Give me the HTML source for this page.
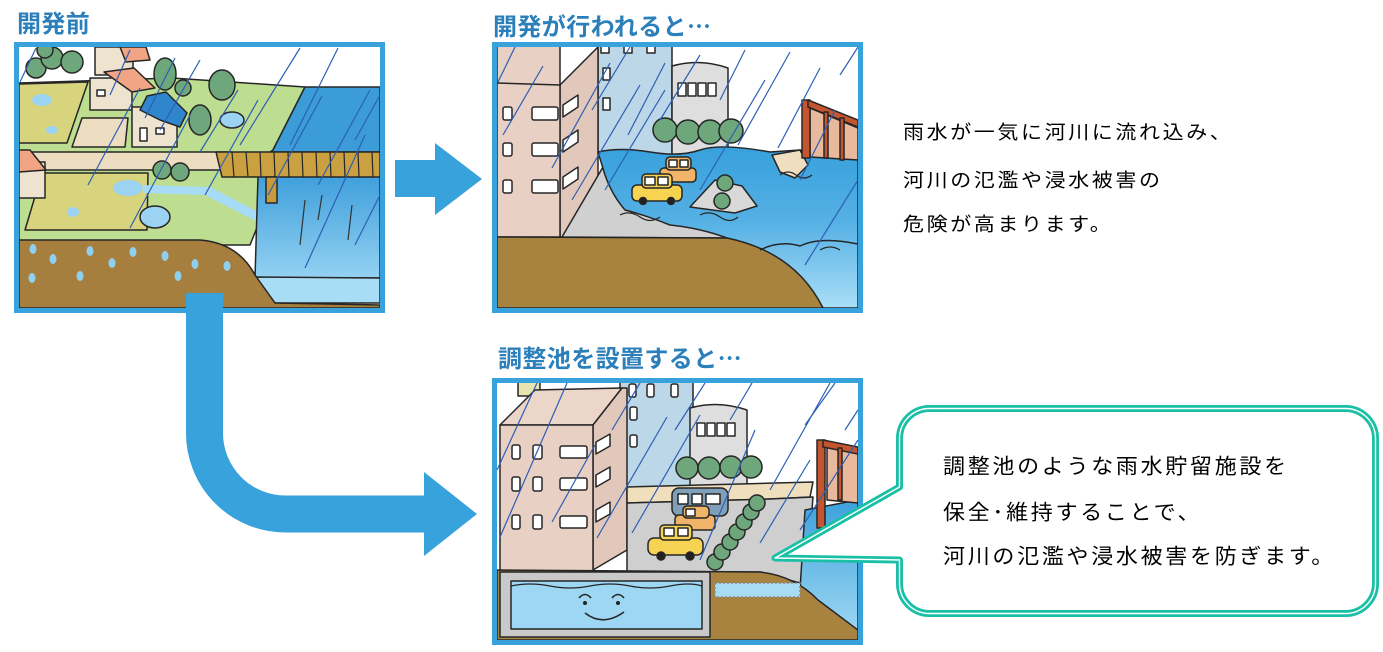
<!DOCTYPE html>
<html><head><meta charset="utf-8">
<style>
html,body{margin:0;padding:0;background:#fff;}
body{width:1383px;height:652px;position:relative;overflow:hidden;}
.t{position:absolute;white-space:nowrap;line-height:1;font-family:"Liberation Sans","Noto Sans CJK JP",sans-serif;}
.ttl{font-size:24px;font-weight:700;color:#2b7fba;letter-spacing:0.4px;}
.el{font-family:"Noto Sans CJK JP",sans-serif;}
.r{font-size:21px;color:#000;letter-spacing:2.6px;transform:scaleY(0.9);transform-origin:0 50%;}
.b{font-size:22px;color:#000;letter-spacing:2.7px;transform:scaleY(0.95);transform-origin:0 50%;}
svg{position:absolute;left:0;top:0;}
</style></head><body>
<svg width="1383" height="652" viewBox="0 0 1383 652" xmlns="http://www.w3.org/2000/svg">
<defs>
<clipPath id="c1"><rect x="19" y="47" width="361" height="261"/></clipPath>
<clipPath id="c2"><rect x="497" y="47" width="361" height="261"/></clipPath>
<clipPath id="c3"><rect x="497" y="383" width="361" height="257"/></clipPath>
<linearGradient id="g1" gradientUnits="userSpaceOnUse" x1="0" y1="176" x2="0" y2="278"><stop offset="0" stop-color="#3f9fdb"/><stop offset="1" stop-color="#93d1f2"/></linearGradient>
<linearGradient id="g2" gradientUnits="userSpaceOnUse" x1="0" y1="150" x2="0" y2="308"><stop offset="0" stop-color="#38a1dc"/><stop offset="0.45" stop-color="#55b0e4"/><stop offset="1" stop-color="#a9def7"/></linearGradient>
<linearGradient id="g3" gradientUnits="userSpaceOnUse" x1="0" y1="505" x2="0" y2="640"><stop offset="0" stop-color="#3fa3dc"/><stop offset="1" stop-color="#a3daf5"/></linearGradient>
</defs>

<!-- ===== PANEL 1 ===== -->
<g clip-path="url(#c1)" stroke="#262626" stroke-width="1.5" stroke-linejoin="round">
<rect x="19" y="47" width="361" height="261" fill="#fff" stroke="none"/>
<polygon points="19,83 172,78 305,87 273,150 262,215 250,245 19,245" fill="#bddd90"/>
<polygon points="19,84 88,82 67,143 19,143" fill="#d8d47e"/>
<polygon points="42,173 148,173 147,230 25,230" fill="#d8d47e"/>
<polygon points="19,152 232,152 240,170 19,170" fill="#ecdcc0"/>
<polygon points="82,118 128,118 125,147 72,147" fill="#ecdcc0"/>
<polygon points="143,185 210,187 262,214 258,222 205,195 143,193" fill="#a8dcf6" stroke="none"/>
<polygon points="305,87 380,87 380,152 270,152 273,150" fill="#3b9cd8"/>
<polygon points="258,176 380,176 380,278 255,278" fill="url(#g1)"/>
<polygon points="255,277 380,278 380,303 275,303" fill="#a8ddf6"/>
<path d="M19,240 L200,240 Q238,243 255,275 L275,303 L380,305 L380,308 L19,308 Z" fill="#a67e3d"/>
<polygon points="216,152 380,152 380,177 222,177" fill="#caa040"/>
<g stroke-width="1.2"><line x1="232" y1="152" x2="234" y2="177"/><line x1="246" y1="152" x2="248" y2="177"/><line x1="260" y1="152" x2="261" y2="177"/><line x1="274" y1="152" x2="275" y2="177"/><line x1="288" y1="152" x2="289" y2="177"/><line x1="302" y1="152" x2="303" y2="177"/><line x1="316" y1="152" x2="317" y2="177"/><line x1="330" y1="152" x2="331" y2="177"/><line x1="344" y1="152" x2="345" y2="177"/><line x1="358" y1="152" x2="359" y2="177"/><line x1="372" y1="152" x2="373" y2="177"/></g>
<rect x="266" y="177" width="11" height="26" fill="#c99a3c"/>
<!-- houses -->
<rect x="95" y="47" width="38" height="28" fill="#eee3cf"/>
<polygon points="120,47 146,47 150,60 126,62" fill="#f2a584"/>
<rect x="90" y="78" width="42" height="32" fill="#eee3cf"/>
<polygon points="104,72 134,68 155,88 132,92" fill="#f2a584"/>
<rect x="97" y="90" width="8" height="6" fill="#fff"/>
<rect x="132" y="107" width="45" height="40" fill="#eee3cf"/>
<polygon points="147,96 166,92 187,113 180,127 160,120 140,110" fill="#2f86cc"/>
<rect x="140" y="128" width="7" height="13" fill="#fff"/><rect x="156" y="128" width="8" height="6" fill="#fff"/>
<rect x="19" y="162" width="26" height="36" fill="#eee3cf"/>
<polygon points="19,150 30,150 46,170 19,172" fill="#f2a584"/>
<!-- trees -->
<g fill="#6ea77b">
<circle cx="36" cy="68" r="10"/><circle cx="52" cy="58" r="11"/><circle cx="72" cy="62" r="11"/><circle cx="45" cy="50" r="8"/>
<ellipse cx="165" cy="74" rx="11" ry="16"/><circle cx="183" cy="88" r="8"/><ellipse cx="200" cy="120" rx="11" ry="15"/><ellipse cx="222" cy="85" rx="13" ry="15"/>
<circle cx="162" cy="170" r="9"/><circle cx="180" cy="172" r="9"/>
</g>
<!-- ponds -->
<g fill="#9dd3f2" stroke="none">
<ellipse cx="42" cy="100" rx="10" ry="6"/><ellipse cx="52" cy="130" rx="6" ry="4"/><ellipse cx="128" cy="188" rx="15" ry="8"/><ellipse cx="73" cy="212" rx="6" ry="5"/>
</g>
<ellipse cx="155" cy="217" rx="15" ry="11" fill="#9dd3f2"/><ellipse cx="232" cy="120" rx="12" ry="8" fill="#9dd3f2"/>
<!-- drops -->
<g fill="#8fd0f0" stroke="none">
<ellipse cx="33" cy="249" rx="3.5" ry="5"/><ellipse cx="53" cy="259" rx="3.5" ry="5"/><ellipse cx="90" cy="251" rx="3.5" ry="5"/><ellipse cx="112" cy="263" rx="3.5" ry="5"/><ellipse cx="133" cy="252" rx="3.5" ry="5"/><ellipse cx="165" cy="256" rx="3.5" ry="5"/><ellipse cx="195" cy="264" rx="3.5" ry="5"/><ellipse cx="227" cy="266" rx="3.5" ry="5"/><ellipse cx="32" cy="278" rx="3.5" ry="5"/><ellipse cx="80" cy="276" rx="3.5" ry="5"/><ellipse cx="178" cy="276" rx="3.5" ry="5"/>
</g>
<!-- rain -->
<g stroke="#2d5fb5" stroke-width="1.2">
<line x1="20" y1="82" x2="36" y2="48"/><line x1="88" y1="185" x2="140" y2="88"/><line x1="130" y1="228" x2="190" y2="115"/><line x1="205" y1="195" x2="258" y2="100"/><line x1="240" y1="145" x2="300" y2="48"/><line x1="268" y1="195" x2="322" y2="96"/><line x1="290" y1="145" x2="338" y2="48"/><line x1="305" y1="268" x2="365" y2="135"/><line x1="318" y1="185" x2="370" y2="90"/><line x1="355" y1="245" x2="380" y2="195"/><line x1="160" y1="130" x2="200" y2="60"/><line x1="145" y1="118" x2="175" y2="58"/><line x1="110" y1="95" x2="130" y2="50"/><line x1="200" y1="152" x2="238" y2="90"/><line x1="355" y1="140" x2="380" y2="95"/>
</g>
<g stroke="#333" stroke-width="1.2"><line x1="300" y1="245" x2="305" y2="200"/><line x1="318" y1="220" x2="322" y2="195"/><line x1="348" y1="240" x2="352" y2="205"/></g>
</g>
<rect x="16.5" y="44.5" width="366" height="266" fill="none" stroke="#37a2db" stroke-width="5"/>

<!-- ===== PANEL 2 ===== -->
<g clip-path="url(#c2)" stroke="#262626" stroke-width="1.5" stroke-linejoin="round">
<rect x="497" y="47" width="361" height="261" fill="#fff" stroke="none"/>
<rect x="598" y="40" width="74" height="115" fill="#bcd7e7"/>
<g fill="#fff"><rect x="601" y="45" width="8" height="8"/><rect x="624" y="45" width="8" height="8"/><rect x="647" y="45" width="8" height="8"/><rect x="603" y="68" width="7" height="12"/><rect x="603" y="98" width="7" height="12"/></g>
<path d="M672,155 V66 Q700,58 728,68 V155 Z" fill="#dedede"/>
<g fill="#fff"><rect x="678" y="83" width="8" height="13"/><rect x="688" y="83" width="8" height="13"/><rect x="698" y="83" width="8" height="13"/><rect x="708" y="83" width="8" height="13"/></g>
<polygon points="560,85 598,47 598,237 560,237" fill="#e2c8bb"/>
<polygon points="497,40 560,40 560,237 497,237" fill="#e8d0c4"/>
<line x1="497" y1="83" x2="560" y2="85"/>
<g fill="#fff">
<rect x="503" y="107" width="9" height="13" rx="2"/><rect x="532" y="107" width="26" height="13" rx="2"/>
<rect x="503" y="143" width="9" height="13" rx="2"/><rect x="532" y="143" width="26" height="13" rx="2"/>
<rect x="503" y="180" width="9" height="13" rx="2"/><rect x="532" y="180" width="26" height="13" rx="2"/>
<polygon points="563,105 578,95 578,107 563,117"/><polygon points="563,140 578,130 578,142 563,152"/><polygon points="563,177 578,167 578,179 563,189"/>
</g>
<polygon points="603,167 562,237 727,238 690,205 640,200" fill="#d0d0d0"/>
<path d="M598,152 Q620,147 650,152 T700,150 T770,152 L800,150 Q830,158 858,156 L858,308 L823,308 Q795,255 727,238 Q700,228 670,225 Q645,215 625,210 Q612,195 605,175 Z" fill="url(#g2)"/>
<polygon points="772,155 800,150 808,165 795,178 780,172" fill="#efdfc0"/>
<polygon points="690,207 715,180 742,186 757,206 735,213" fill="#d8d8d8"/>
<path d="M497,237 L727,238 Q795,252 823,308 L497,308 Z" fill="#a8823f"/>
<path d="M760,250 Q780,240 800,246 Q820,236 858,244" fill="none"/>
<!-- bridge -->
<polygon points="810,108 858,128 858,160 810,157" fill="#e9b99d"/>
<rect x="802" y="100" width="8" height="58" fill="#c5552f"/>
<polygon points="808,100 858,120 858,127 808,107" fill="#c5552f"/>
<rect x="824" y="112" width="4" height="46" fill="#c5552f"/><rect x="840" y="118" width="4" height="42" fill="#c5552f"/>
<!-- trees -->
<g fill="#6ea77b"><circle cx="665" cy="130" r="12"/><circle cx="688" cy="132" r="12"/><circle cx="710" cy="132" r="12"/><circle cx="731" cy="131" r="12"/><circle cx="725" cy="183" r="8"/><circle cx="722" cy="201" r="8"/></g>
<!-- cars -->
<rect x="660" y="168" width="36" height="14" rx="4" fill="#f1b469"/><rect x="666" y="157" width="25" height="13" rx="4" fill="#f1b469"/>
<rect x="669" y="160" width="8" height="7" fill="#fff"/><rect x="680" y="160" width="8" height="7" fill="#fff"/>
<rect x="632" y="185" width="50" height="16" rx="5" fill="#f6d350"/><rect x="642" y="174" width="30" height="14" rx="4" fill="#f6d350"/>
<rect x="645" y="177" width="10" height="8" fill="#fff"/><rect x="658" y="177" width="10" height="8" fill="#fff"/>
<circle cx="643" cy="201" r="3.5" fill="#222"/><circle cx="671" cy="201" r="3.5" fill="#222"/>
<g fill="none" stroke-width="1.2"><path d="M620,215 q10,-5 20,2 t20,0"/><path d="M700,215 q10,-5 20,2 t18,0"/><path d="M780,175 q8,-6 16,0 t16,0"/><path d="M820,250 q10,-6 20,0"/></g>
<!-- rain -->
<g stroke="#2d5fb5" stroke-width="1.2">
<line x1="498" y1="82" x2="515" y2="47"/><line x1="503" y1="135" x2="543" y2="66"/><line x1="552" y1="168" x2="610" y2="63"/><line x1="572" y1="200" x2="640" y2="85"/><line x1="605" y1="190" x2="665" y2="90"/><line x1="628" y1="135" x2="665" y2="63"/><line x1="660" y1="120" x2="700" y2="55"/><line x1="700" y1="190" x2="765" y2="80"/><line x1="738" y1="145" x2="790" y2="52"/><line x1="778" y1="148" x2="820" y2="68"/><line x1="800" y1="180" x2="835" y2="110"/><line x1="805" y1="265" x2="858" y2="180"/><line x1="840" y1="75" x2="858" y2="47"/><line x1="720" y1="100" x2="745" y2="50"/><line x1="592" y1="110" x2="630" y2="47"/>
</g>
</g>
<rect x="494.5" y="44.5" width="366" height="266" fill="none" stroke="#37a2db" stroke-width="5"/>

<!-- ===== PANEL 3 ===== -->
<g clip-path="url(#c3)" stroke="#262626" stroke-width="1.5" stroke-linejoin="round">
<rect x="497" y="383" width="361" height="257" fill="#fff" stroke="none"/>
<rect x="518" y="378" width="22" height="18" fill="#e8e4b0"/>
<rect x="620" y="378" width="73" height="110" fill="#bcd7e7"/>
<g fill="#fff"><rect x="629" y="384" width="7" height="13" rx="2"/><rect x="647" y="384" width="7" height="13" rx="2"/><rect x="671" y="384" width="7" height="13" rx="2"/><rect x="630" y="407" width="7" height="13" rx="2"/><rect x="630" y="435" width="7" height="12" rx="2"/></g>
<path d="M690,488 V408 Q718,400 747,410 V488 Z" fill="#dedede"/>
<g fill="#fff"><rect x="697" y="423" width="8" height="13"/><rect x="707" y="423" width="8" height="13"/><rect x="717" y="423" width="8" height="13"/><rect x="727" y="423" width="8" height="13"/></g>
<polygon points="500,425 535,390 622,388 593,425" fill="#ecd6ca"/>
<polygon points="593,425 622,388 627,388 627,550 593,570" fill="#e2c8bb"/>
<rect x="500" y="425" width="93" height="147" fill="#e8d0c4"/>
<g fill="#fff">
<rect x="512" y="445" width="8" height="14" rx="2"/><rect x="533" y="445" width="9" height="14" rx="2"/><rect x="560" y="446" width="27" height="12" rx="2"/>
<rect x="512" y="477" width="8" height="14" rx="2"/><rect x="533" y="477" width="9" height="14" rx="2"/><rect x="560" y="478" width="27" height="12" rx="2"/>
<rect x="512" y="515" width="8" height="14" rx="2"/><rect x="533" y="515" width="9" height="14" rx="2"/><rect x="560" y="516" width="27" height="12" rx="2"/>
<polygon points="596,442 610,434 610,446 596,454"/><polygon points="596,475 610,467 610,479 596,487"/><polygon points="596,510 610,502 610,514 596,522"/>
</g>
<polygon points="627,487 813,482 810,497 770,499 627,503" fill="#efdfbd"/>
<polygon points="627,503 770,499 813,497 808,560 800,583 760,572 627,572" fill="#cfcfcf"/>
<polygon points="805,510 858,500 858,640 840,640 820,610 800,590" fill="url(#g3)"/>
<path d="M497,570 L760,572 Q795,576 818,600 L858,630 L858,640 L497,640 Z" fill="#a8823f"/>
<rect x="500" y="572" width="210" height="65" fill="#c9c9c9"/>
<rect x="511" y="581" width="191" height="48" fill="#9dd7f3"/>
<path d="M511,586 Q530,582 550,586 T590,586 T630,586 T670,586 T702,586" fill="none" stroke-width="1.2"/>
<path d="M579,598 Q585,591 591,598 M612,598 Q618,591 624,598" fill="none" stroke-width="1.5"/>
<circle cx="585" cy="603" r="2" fill="#222" stroke="none"/><circle cx="618" cy="603" r="2" fill="#222" stroke="none"/>
<path d="M585,613 Q603,627 624,612" fill="none" stroke-width="1.6"/>
<rect x="715" y="583" width="85" height="14" fill="#a8dcf4" stroke="#8a8a8a" stroke-dasharray="2,2"/>
<!-- bridge -->
<polygon points="827,447 858,452 858,503 827,500" fill="#e9b99d"/>
<rect x="817" y="440" width="8" height="88" fill="#c5552f"/>
<polygon points="823,440 858,447 858,454 823,447" fill="#c5552f"/>
<rect x="838" y="448" width="4" height="52" fill="#c5552f"/>
<!-- trees -->
<g fill="#6ea77b"><circle cx="687" cy="468" r="11"/><circle cx="709" cy="468" r="11"/><circle cx="731" cy="467" r="11"/><circle cx="751" cy="467" r="11"/>
<circle cx="715" cy="562" r="8"/><circle cx="722" cy="552" r="8"/><circle cx="730" cy="542" r="8"/><circle cx="737" cy="532" r="8"/><circle cx="744" cy="522" r="8"/><circle cx="751" cy="512" r="8"/><circle cx="757" cy="503" r="8"/></g>
<!-- bus & cars -->
<rect x="672" y="488" width="56" height="28" rx="7" fill="#7fa0b8"/>
<g fill="#fff"><rect x="678" y="494" width="10" height="10"/><rect x="692" y="494" width="10" height="10"/><rect x="706" y="494" width="14" height="10"/></g>
<rect x="675" y="515" width="40" height="15" rx="4" fill="#efb36a"/><rect x="683" y="506" width="26" height="12" rx="4" fill="#efb36a"/>
<rect x="686" y="509" width="9" height="7" fill="#fff"/>
<rect x="648" y="538" width="55" height="17" rx="6" fill="#f6d352"/><rect x="660" y="525" width="32" height="15" rx="4" fill="#f6d352"/>
<rect x="664" y="528" width="10" height="8" fill="#fff"/><rect x="678" y="528" width="10" height="8" fill="#fff"/>
<circle cx="661" cy="556" r="4" fill="#222"/><circle cx="690" cy="556" r="4" fill="#222"/>
<!-- rain -->
<g stroke="#2d5fb5" stroke-width="1.2">
<line x1="497" y1="470" x2="537" y2="383"/><line x1="500" y1="537" x2="567" y2="383"/><line x1="552" y1="522" x2="595" y2="445"/><line x1="597" y1="538" x2="667" y2="417"/><line x1="632" y1="533" x2="700" y2="415"/><line x1="675" y1="430" x2="705" y2="383"/><line x1="700" y1="560" x2="755" y2="430"/><line x1="760" y1="543" x2="810" y2="460"/><line x1="770" y1="490" x2="830" y2="383"/><line x1="805" y1="425" x2="835" y2="383"/><line x1="800" y1="530" x2="858" y2="440"/><line x1="845" y1="430" x2="858" y2="410"/><line x1="612" y1="430" x2="640" y2="383"/><line x1="730" y1="420" x2="752" y2="383"/>
</g>
</g>
<rect x="494.5" y="380.5" width="366" height="262" fill="none" stroke="#37a2db" stroke-width="5"/>

<!-- ===== ARROWS ===== -->
<rect x="395" y="160" width="41" height="37" fill="#37a2db"/>
<polygon points="435,143 482,179 435,215" fill="#37a2db"/>
<path d="M204.5,293 V433 A81,81 0 0 0 285.5,514 H426" fill="none" stroke="#37a2db" stroke-width="37"/>
<polygon points="424,472 477,514 424,556" fill="#37a2db"/>

<!-- ===== BUBBLE ===== -->
<path d="M929.5,408.5 H1345.5 A30,30 0 0 1 1375.5,438.5 V583.5 A30,30 0 0 1 1345.5,613.5 H929.5 A30,30 0 0 1 899.5,583.5 V560 L775,558 L899.5,487 V438.5 A30,30 0 0 1 929.5,408.5 Z" fill="#fff" stroke="#19c0a6" stroke-width="7" stroke-linejoin="round"/>
<path d="M929.5,408.5 H1345.5 A30,30 0 0 1 1375.5,438.5 V583.5 A30,30 0 0 1 1345.5,613.5 H929.5 A30,30 0 0 1 899.5,583.5 V560 L775,558 L899.5,487 V438.5 A30,30 0 0 1 929.5,408.5 Z" fill="none" stroke="#fff" stroke-width="1.4" stroke-linejoin="round"/>
</svg>

<div class="t ttl" style="left:17px;top:13px;">開発前</div>
<div class="t ttl" style="left:493px;top:13px;">開発が行われると<span class="el">…</span></div>
<div class="t ttl" style="left:498px;top:345px;">調整池を設置すると<span class="el">…</span></div>

<div class="t r" style="left:903px;top:122px;">雨水が一気に河川に流れ込み、</div>
<div class="t r" style="left:903px;top:170px;">河川の氾濫や浸水被害の</div>
<div class="t r" style="left:903px;top:214px;">危険が高まります。</div>

<div class="t b" style="left:943px;top:456px;">調整池のような雨水貯留施設を</div>
<div class="t b" style="left:943px;top:502px;">保全･維持することで、</div>
<div class="t b" style="left:943px;top:546px;">河川の氾濫や浸水被害を防ぎます。</div>
</body></html>
